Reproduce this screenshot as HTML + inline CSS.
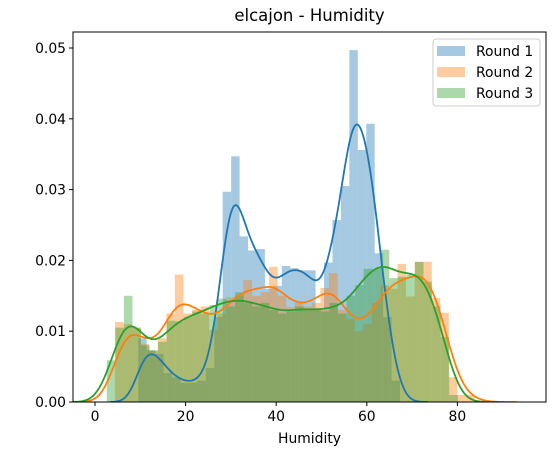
<!DOCTYPE html>
<html><head><meta charset="utf-8"><style>
body{margin:0;background:#fff;}
svg text{font-family:"DejaVu Sans","Liberation Sans",sans-serif;}
</style></head><body>
<svg id="chart" width="559" height="455" viewBox="0 0 559 455" xmlns="http://www.w3.org/2000/svg">
<rect width="559" height="455" fill="#fff"/>
<text x="309.5" y="21" font-size="16.5" text-anchor="middle" fill="#000">elcajon - Humidity</text>
<defs><clipPath id="clip"><rect x="73" y="32" width="473" height="370"/></clipPath></defs>
<g id="plot" clip-path="url(#clip)"></g>
<rect x="73" y="32" width="473" height="370" fill="none" stroke="#000" stroke-width="1"/>
<g id="axes"></g>
<text x="309.5" y="443" font-size="13.9" text-anchor="middle">Humidity</text>
<g>
<rect x="433" y="39" width="107" height="67" rx="3" fill="#fff" fill-opacity="0.8" stroke="#ccc"/>
<rect x="437" y="46" width="28" height="10" fill="#1f77b4" fill-opacity="0.4"/>
<text x="476" y="56" font-size="13.9">Round 1</text>
<rect x="437" y="67" width="28" height="10" fill="#ff7f0e" fill-opacity="0.4"/>
<text x="476" y="77" font-size="13.9">Round 2</text>
<rect x="437" y="88" width="28" height="10" fill="#2ca02c" fill-opacity="0.4"/>
<text x="476" y="98" font-size="13.9">Round 3</text>
</g>
</svg>
<script>
const xTicks = [0, 20, 40, 60, 80];
const yTicks = [0, 0.01, 0.02, 0.03, 0.04, 0.05];
const yTickLabels = ["0.00", "0.01", "0.02", "0.03", "0.04", "0.05"];
const seriesNames = ["Round 1", "Round 2", "Round 3"];
const binStarts = [9.55, 4.4, 2.6];
const binWidths = [1.864, 1.89, 1.89];
const round1 = [0.009,0.0073,0.0068,0.0041,0.0035,0.0027,0.0027,0.003,0.0048,0.012,0.0297,0.0347,0.0234,0.0214,0.0216,0.016,0.0164,0.0192,0.0189,0.0186,0.0186,0.013,0.0197,0.0257,0.0305,0.0497,0.0356,0.0393,0.021,0.012,0.003];
const round2 = [0.0113,0.011,0.0105,0.0082,0.0072,0.009,0.0125,0.018,0.0125,0.013,0.0135,0.0102,0.0125,0.0148,0.015,0.0172,0.015,0.0155,0.0191,0.015,0.0134,0.014,0.0135,0.014,0.0161,0.0182,0.013,0.0117,0.01,0.011,0.014,0.0165,0.016,0.0195,0.0149,0.0198,0.0198,0.0147,0.0126,0.0035,0.001,0.001];
const round3 = [0.0059,0.0105,0.015,0.0105,0.008,0.0073,0.0085,0.0115,0.0114,0.012,0.0128,0.0125,0.0137,0.0146,0.0135,0.0155,0.014,0.0135,0.014,0.013,0.0125,0.0128,0.0135,0.013,0.013,0.0128,0.014,0.0125,0.015,0.0165,0.0188,0.0188,0.0215,0.0175,0.0177,0.018,0.0198,0.017,0.0135,0.0092,0.001];
const bandwidths = [2.0, 2.6, 2.6];
const colors = ["#1f77b4", "#ff7f0e", "#2ca02c"];

const NS = "http://www.w3.org/2000/svg";
function xs(v){ return 95 + v * 4.53; }
function ys(v){ return 402 - v * 7080; }
const plot = document.getElementById('plot');
const axes = document.getElementById('axes');
const allSeries = [round1, round2, round3];

allSeries.forEach((vals, s) => {
  vals.forEach((h, i) => {
    const x0 = binStarts[s] + i * binWidths[s];
    const r = document.createElementNS(NS, 'rect');
    r.setAttribute('x', xs(x0));
    r.setAttribute('y', ys(h));
    r.setAttribute('width', xs(x0 + binWidths[s]) - xs(x0));
    r.setAttribute('height', ys(0) - ys(h));
    r.setAttribute('fill', colors[s]);
    r.setAttribute('fill-opacity', '0.4');
    
    
    plot.appendChild(r);
  });
});

allSeries.forEach((vals, s) => {
  const w = binWidths[s];
  const sig = Math.sqrt(bandwidths[s] * bandwidths[s] + w * w / 12);
  const ext = s === 0 ? 3.1 : 3.6;
  const lo = binStarts[s] - ext * bandwidths[s];
  const hi = binStarts[s] + vals.length * w + ext * bandwidths[s];
  let d = '';
  for (let k = 0; k <= 240; k++) {
    const x = lo + (hi - lo) * k / 240;
    let y = 0;
    vals.forEach((h, i) => {
      const c = binStarts[s] + (i + 0.5) * w;
      y += h * w * Math.exp(-0.5 * ((x - c) / sig) ** 2) / (sig * Math.sqrt(2 * Math.PI));
    });
    d += (k ? 'L' : 'M') + xs(x).toFixed(2) + ',' + ys(y).toFixed(2);
  }
  const p = document.createElementNS(NS, 'path');
  p.setAttribute('d', d);
  p.setAttribute('fill', 'none');
  p.setAttribute('stroke', colors[s]);
  p.setAttribute('stroke-width', '1.8');
  
  
  plot.appendChild(p);
});

xTicks.forEach(v => {
  const l = document.createElementNS(NS, 'line');
  l.setAttribute('x1', xs(v)); l.setAttribute('x2', xs(v));
  l.setAttribute('y1', 402); l.setAttribute('y2', 406);
  l.setAttribute('stroke', '#000');
  
  
  axes.appendChild(l);
  const t = document.createElementNS(NS, 'text');
  t.setAttribute('x', xs(v)); t.setAttribute('y', 421);
  t.setAttribute('font-size', '13.9'); t.setAttribute('text-anchor', 'middle');
  t.textContent = String(v);
  
  
  axes.appendChild(t);
});
yTicks.forEach((v, i) => {
  const l = document.createElementNS(NS, 'line');
  l.setAttribute('x1', 69); l.setAttribute('x2', 73);
  l.setAttribute('y1', ys(v)); l.setAttribute('y2', ys(v));
  l.setAttribute('stroke', '#000');
  
  
  axes.appendChild(l);
  const t = document.createElementNS(NS, 'text');
  t.setAttribute('x', 66); t.setAttribute('y', ys(v) + 5);
  t.setAttribute('font-size', '13.9'); t.setAttribute('text-anchor', 'end');
  t.textContent = yTickLabels[i];
  
  
  axes.appendChild(t);
});
</script>
</body></html>
